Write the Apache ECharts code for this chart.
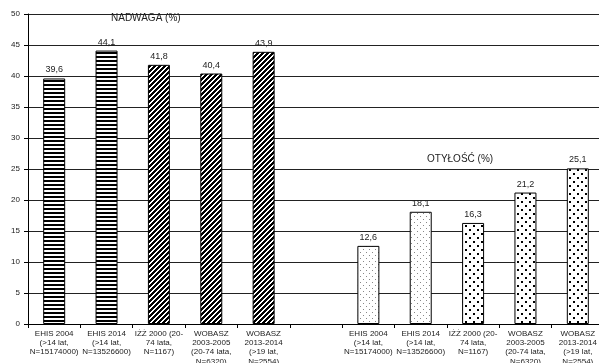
<!DOCTYPE html>
<html><head><meta charset="utf-8">
<script src="https://cdn.jsdelivr.net/npm/echarts@6/dist/echarts.min.js"></script>
<style>html,body{margin:0;padding:0;background:#fff}#c{width:599px;height:363px}</style>
</head><body><div id="c"></div>
<script>
const categories = [
  "EHIS 2004\n(>14 lat,\nN=15174000)",
  "EHIS 2014\n(>14 lat,\nN=13526600)",
  "IŻŻ 2000 (20-\n74 lata,\nN=1167)",
  "WOBASZ\n2003-2005\n(20-74 lata,\nN=6320)",
  "WOBASZ\n2013-2014\n(>19 lat,\nN=2554)",
  "",
  "EHIS 2004\n(>14 lat,\nN=15174000)",
  "EHIS 2014\n(>14 lat,\nN=13526600)",
  "IŻŻ 2000 (20-\n74 lata,\nN=1167)",
  "WOBASZ\n2003-2005\n(20-74 lata,\nN=6320)",
  "WOBASZ\n2013-2014\n(>19 lat,\nN=2554)"
];
const nadwaga = [39.6, 44.1, 41.8, 40.4, 43.9, null, null, null, null, null, null];
const otylosc = [null, null, null, null, null, null, 12.6, 18.1, 16.3, 21.2, 25.1];
const nadwagaPatterns = ["hstripe", "hstripe", "diag", "diag", "diag", null, null, null, null, null, null];
const otyloscPatterns = [null, null, null, null, null, null, "finedots", "finedots", "dots", "dots", "dots"];
const yTicks = {min: 0, max: 50, interval: 5};

function mk(w, h, draw) {
  const c = document.createElement('canvas');
  c.width = w; c.height = h;
  const g = c.getContext('2d');
  g.fillStyle = '#fff'; g.fillRect(0, 0, w, h);
  draw(g);
  return {image: c, repeat: 'repeat'};
}
const patterns = {
  hstripe: mk(4, 4, g => { g.fillStyle = '#000'; g.fillRect(0, 0, 4, 2); }),
  diag: mk(5, 5, g => {
    g.fillStyle = '#000';
    for (let y = 0; y < 5; y++) {
      for (let k = 0; k < 3; k++) {
        const x = ((4 - y) + k) % 5;
        g.fillRect(x, y, 1, 1);
      }
    }
  }),
  finedots: mk(6, 6, g => {
    g.fillStyle = '#888';
    g.fillRect(0, 0, 1, 1); g.fillRect(3, 3, 1, 1);
  }),
  dots: mk(8, 8, g => {
    g.fillStyle = '#000';
    g.fillRect(1, 1, 2, 2); g.fillRect(5, 5, 2, 2);
  })
};
function items(vals, pats) {
  return vals.map((v, i) => v == null ? null : {
    value: v,
    itemStyle: {color: patterns[pats[i]], borderColor: '#000', borderWidth: 1}
  });
}
const labelCfg = {
  show: true, position: 'top', distance: 4,
  fontSize: 9, color: '#222', fontFamily: 'Liberation Sans, Arial, sans-serif',
  formatter: p => String(p.value).replace('.', ',')
};
const chart = echarts.init(document.getElementById('c'));
chart.setOption({
  animation: false,
  textStyle: {fontFamily: 'Liberation Sans, Arial, sans-serif'},
  title: [
    {text: 'NADWAGA (%)', left: 106, top: 8, textStyle: {fontSize: 10, fontWeight: 'normal', color: '#222'}},
    {text: 'OTYŁOŚĆ (%)', left: 422, top: 149, textStyle: {fontSize: 10, fontWeight: 'normal', color: '#222'}}
  ],
  grid: {left: 28, top: 14, height: 310, width: 576, containLabel: false, outerBoundsMode: 'none'},
  xAxis: {
    type: 'category', data: categories,
    axisLine: {lineStyle: {color: '#000'}},
    axisTick: {show: true, length: 4, lineStyle: {color: '#000'}},
    axisLabel: {interval: 0, fontSize: 8, lineHeight: 9.3, color: '#222', margin: 5, hideOverlap: false}
  },
  yAxis: {
    type: 'value', min: yTicks.min, max: yTicks.max, interval: yTicks.interval,
    axisLine: {show: true, lineStyle: {color: '#000'}},
    axisTick: {show: true, length: 4, lineStyle: {color: '#000'}},
    axisLabel: {fontSize: 8, color: '#222', margin: 8},
    splitLine: {lineStyle: {color: '#222', width: 1}}
  },
  series: [
    {type: 'bar', stack: 's', barWidth: '42%', data: items(nadwaga, nadwagaPatterns), label: labelCfg},
    {type: 'bar', stack: 's', barWidth: '42%', data: items(otylosc, otyloscPatterns), label: labelCfg}
  ]
});
</script></body></html>
